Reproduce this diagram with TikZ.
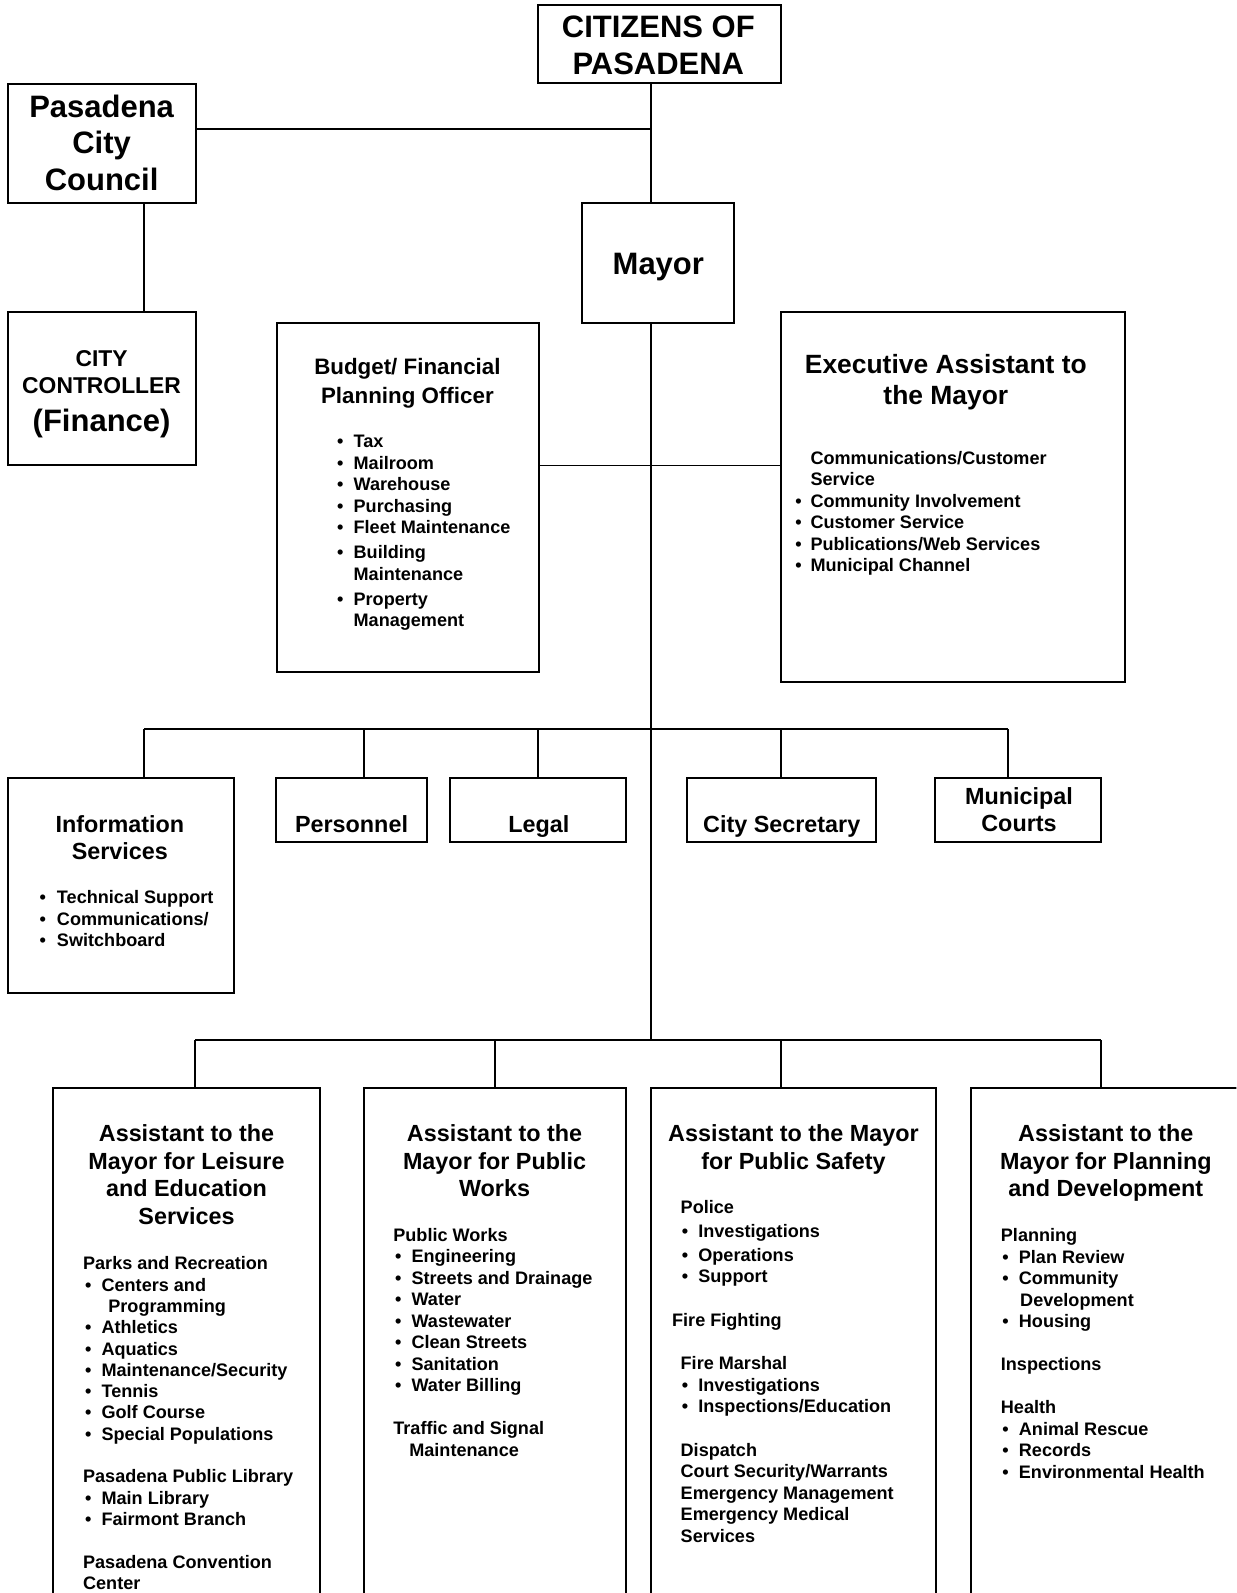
\documentclass[tikz,border=0pt]{standalone}
\usepackage{fontspec}
\setmainfont{Liberation Sans}
\usetikzlibrary{calc}
\newcommand\fBig{\fontsize{30.5}{36}\selectfont}
\newcommand\fTitle{\fontsize{23}{27.1}\selectfont}
\newcommand\fBud{\fontsize{22}{28}\selectfont}
\newcommand\fExe{\fontsize{26}{31}\selectfont}
\newcommand\fCtl{\fontsize{22.5}{26}\selectfont}
\newcommand\fItem{\fontsize{17.8}{21.2}\selectfont}
\newcommand\fItemB{\fontsize{17.8}{20.98}\selectfont}
\newcommand\bl[2][1.7]{\hspace*{#1pt}\makebox[16.2pt][l]{\textbullet}#2}
\newcommand\ctab[1]{\begin{tabular}[t]{@{}c@{}}#1\end{tabular}}
\newcommand\ltab[1]{\begin{tabular}[t]{@{}l@{}}#1\end{tabular}}
\tikzset{
  box/.style={draw, line width=2pt, rectangle, inner sep=0pt},
  conn/.style={line width=2pt},
  thinconn/.style={line width=1.5pt},
  ctext/.style={inner sep=0pt, anchor=base, font=\bfseries},
  ltext/.style={inner sep=0pt, anchor=base west, font=\bfseries\fItem},
}
\begin{document}
\begin{tikzpicture}[x=1pt, y=-1pt]
\useasboundingbox (0,0) rectangle (1217,1568);
\clip (0,0) rectangle (1217,1568);
\fill[white] (0,0) rectangle (1217,1568);

% ---------- boxes ----------
\node[box, minimum width=239, minimum height=77] (cit) at (649.5,43.5) {};
\node[box, minimum width=185, minimum height=117] (council) at (100.5,141.5) {};
\node[box, minimum width=149, minimum height=118] (mayor) at (647.5,259) {};
\node[box, minimum width=185, minimum height=151] (ctrl) at (100.5,382.5) {};
\node[box, minimum width=258, minimum height=344] (budget) at (401.5,489.5) {};
\node[box, minimum width=338, minimum height=364] (exec) at (938,489.5) {};
\node[box, minimum width=222, minimum height=211] (info) at (119,871.5) {};
\node[box, minimum width=148, minimum height=63] (pers) at (346,797.5) {};
\node[box, minimum width=173, minimum height=63] (legal) at (529.5,797.5) {};
\node[box, minimum width=186, minimum height=63] (csec) at (769,797.5) {};
\node[box, minimum width=164, minimum height=63] (courts) at (1002,797.5) {};
\node[box, minimum width=262, minimum height=560] (a1) at (183.5,1351) {};
\node[box, minimum width=258, minimum height=560] (a2) at (487,1351) {};
\node[box, minimum width=280, minimum height=560] (a3) at (781,1351) {};
\node[box, minimum width=296, minimum height=560] (a4) at (1104,1351) {};

% ---------- connectors ----------
\coordinate (sp) at (641,127);
\coordinate (hb) at (641,458);
\coordinate (cc) at (142,250);
\coordinate (b1) at (641,718);
\coordinate (b2) at (641,1024);
\coordinate (d1) at (142,718);
\coordinate (d2) at (358,718);
\coordinate (d3) at (530,718);
\coordinate (d4) at (769,718);
\coordinate (d5) at (992,718);
\coordinate (e1) at (192,1024);
\coordinate (e2) at (487,1024);
\coordinate (e3) at (769,1024);
\coordinate (e4) at (1084,1024);

\draw[conn] (cit.south -| sp) -- (mayor.north -| sp);
\draw[conn] (council.east |- sp) -- (sp);
\draw[conn] (council.south -| cc) -- (ctrl.north -| cc);
\draw[thinconn] (mayor.south -| sp) -- (b2);
\draw[thinconn] (budget.east |- hb) -- (exec.west |- hb);
\draw[conn] (d1) -- (d5);
\draw[conn] (d1) -- (info.north -| d1);
\draw[conn] (d2) -- (pers.north -| d2);
\draw[conn] (d3) -- (legal.north -| d3);
\draw[conn] (d4) -- (csec.north -| d4);
\draw[conn] (d5) -- (courts.north -| d5);
\draw[conn] (e1) -- (e4);
\draw[conn] (e1) -- (a1.north -| e1);
\draw[thinconn] (e2) -- (a2.north -| e2);
\draw[conn] (e3) -- (a3.north -| e3);
\draw[conn] (e4) -- (a4.north -| e4);

% ---------- texts ----------
\node[ctext, font=\bfseries\fBig] (tcit) at (648,37) {\ctab{CITIZENS OF\\PASADENA}};
\node[ctext, font=\bfseries\fBig] (tcouncil) at (100,115.5) {\ctab{Pasadena\\City\\Council}};
\node[ctext, font=\bfseries\fBig] (tmayor) at (648,270) {Mayor};
\node[ctext, font=\bfseries\fCtl] (tctrl) at (100,361) {\ctab{CITY\\CONTROLLER}};
\node[ctext, font=\bfseries\fBig] (tfin) at (100,425) {(Finance)};

\node[ctext, font=\bfseries\fBud] (tbud) at (401,369) {\ctab{Budget/ Financial\\Planning Officer}};
\node[ltext] (lbud) at (331.7,440.5) {\ltab{\bl[0]{Tax}\\ \bl[0]{Mailroom}\\ \bl[0]{Warehouse}\\ \bl[0]{Purchasing}\\ \bl[0]{Fleet Maintenance}\\[3.5pt] \bl[0]{Building}\\ \hspace*{16.2pt}Maintenance\\[3.5pt] \bl[0]{Property}\\ \hspace*{16.2pt}Management}};

\node[ctext, font=\bfseries\fExe] (texec) at (931,367.5) {\ctab{Executive Assistant to\\the Mayor}};
\node[ltext] (lexec) at (782.6,457) {\ltab{\hspace*{15pt}Communications/Customer\\ \hspace*{15pt}Service\\ \makebox[15pt][l]{\textbullet}Community Involvement\\ \makebox[15pt][l]{\textbullet}Customer Service\\ \makebox[15pt][l]{\textbullet}Publications/Web Services\\ \makebox[15pt][l]{\textbullet}Municipal Channel}};

\node[ctext, font=\bfseries\fTitle] (tinfo) at (118,819) {\ctab{Information\\Services}};
\node[ltext] (linfo) at (38.8,889.5) {\ltab{\makebox[17.1pt][l]{\textbullet}Technical Support\\ \makebox[17.1pt][l]{\textbullet}Communications/\\ \makebox[17.1pt][l]{\textbullet}Switchboard}};

\node[ctext, font=\bfseries\fTitle] (tpers) at (346,819) {Personnel};
\node[ctext, font=\bfseries\fTitle] (tlegal) at (530.5,819) {Legal};
\node[ctext, font=\bfseries\fTitle] (tcsec) at (769.5,819) {City Secretary};
\node[ctext, font=\bfseries\fTitle] (tcourts) at (1003,791.7) {\ctab{Municipal\\Courts}};

\node[ctext, font=\bfseries\fTitle] (ta1) at (183.6,1124) {\ctab{Assistant to the\\Mayor for Leisure\\and Education\\Services}};
\node[ltext, font=\bfseries\fItemB] (la1) at (81.6,1249.8) {\ltab{Parks and Recreation\\ \bl[2]{Centers and}\\ \hspace*{24.9pt}Programming\\ \bl[2]{Athletics}\\ \bl[2]{Aquatics}\\ \bl[2]{Maintenance/Security}\\ \bl[2]{Tennis}\\ \bl[2]{Golf Course}\\ \bl[2]{Special Populations}\\ \\ Pasadena Public Library\\ \bl[2]{Main Library}\\ \bl[2]{Fairmont Branch}\\ \\ Pasadena Convention\\ Center}};

\node[ctext, font=\bfseries\fTitle] (ta2) at (486.8,1124) {\ctab{Assistant to the\\Mayor for Public\\Works}};
\node[ltext] (la2) at (387,1221.6) {\ltab{Public Works\\ \bl{Engineering}\\ \bl{Streets and Drainage}\\ \bl{Water}\\ \bl{Wastewater}\\ \bl{Clean Streets}\\ \bl{Sanitation}\\ \bl{Water Billing}\\ \\ Traffic and Signal\\ \hspace*{15.7pt}Maintenance}};

\node[ctext, font=\bfseries\fTitle] (ta3) at (781,1124) {\ctab{Assistant to the Mayor\\for Public Safety}};
\node[ltext] (la3) at (669.8,1194.6) {\ltab{Police\\[1.8pt] \bl[1.2]{Investigations}\\[2.8pt] \bl[1.2]{Operations}\\ \bl[1.2]{Support}\\ \\ \hspace*{-8.4pt}Fire Fighting\\[0.8pt] \\ Fire Marshal\\ \bl[1.2]{Investigations}\\ \bl[1.2]{Inspections/Education}\\ \\ Dispatch\\ Court Security/Warrants\\ Emergency Management\\ Emergency Medical\\ Services}};

\node[ctext, font=\bfseries\fTitle] (ta4) at (1088.5,1124) {\ctab{Assistant to the\\Mayor for Planning\\and Development}};
\node[ltext] (la4) at (985,1222) {\ltab{Planning\\ \bl[1.5]{Plan Review}\\ \bl[1.5]{Community}\\ \hspace*{19pt}Development\\ \bl[1.5]{Housing}\\ \\ Inspections\\ \\ Health\\ \bl[1.5]{Animal Rescue}\\ \bl[1.5]{Records}\\ \bl[1.5]{Environmental Health}}};
\end{tikzpicture}
\end{document}
